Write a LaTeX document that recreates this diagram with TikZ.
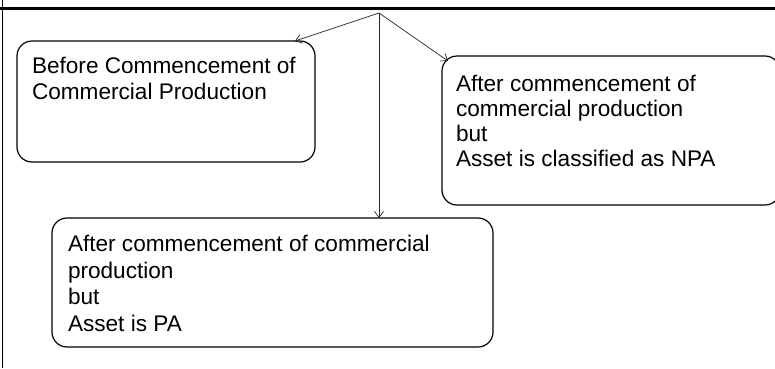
\documentclass[tikz,border=0pt]{standalone}
\usepackage{fontspec}
\setmainfont{Liberation Sans}
\usetikzlibrary{arrows.meta}
\begin{document}
\begin{tikzpicture}[x=1pt,y=-1pt,
  box/.style={draw=black,line width=1.2pt,rounded corners=15pt,inner sep=0pt,outer sep=0pt},
  txt/.style={anchor=north west,inner sep=0pt,outer sep=0pt,align=left,font=\fontsize{22.6}{26}\selectfont},
  arr/.style={draw=black!85,line width=0.7pt,-{Straight Barb[length=6pt,width=9pt,line width=0.7pt]}},
  frame/.style={draw=black}]
\clip (0,0) rectangle (775,368);
\fill[white] (0,0) rectangle (775,368);
% frame lines
\coordinate (tl) at (0,8.5);
\coordinate (tr) at (775,8.5);
\coordinate (lt) at (2.3,0);
\coordinate (lb) at (2.3,368);
\draw[frame,line width=3pt] (tl) -- (tr);
\draw[frame,line width=1.5pt] (lt) -- (lb);
% boxes
\node[box,minimum width=298pt,minimum height=121pt] (b1) at (166,101.5) {};
\node[box,minimum width=338pt,minimum height=149pt] (b2) at (611,130.5) {};
\node[box,minimum width=441pt,minimum height=129pt] (b3) at (272.5,282.5) {};
% texts
\node[txt] (t1) at (32,57.5) {Before Commencement of\\Commercial Production};
\node[txt,font=\fontsize{22.6}{25}\selectfont] (t2) at (456,75.5) {After commencement of\\commercial production\\but\\Asset is classified as NPA};
\node[txt,font=\fontsize{22.6}{26.5}\selectfont] (t3) at (68,235.5) {After commencement of commercial\\production\\but\\Asset is PA};
% connectors
\coordinate (apex) at (379,13);
\draw[arr] (apex) -- ([xshift=-20pt]b1.north east);
\draw[arr] (apex) -- ([xshift=6pt,yshift=-5pt]b2.north west);
\draw[arr] (apex) -- (apex |- b3.north);
\end{tikzpicture}
\end{document}
